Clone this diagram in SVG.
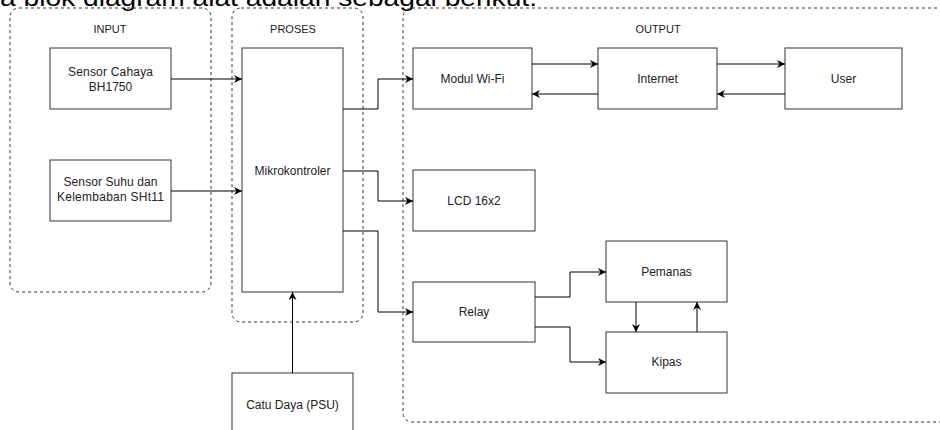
<svg xmlns="http://www.w3.org/2000/svg" width="940" height="430" viewBox="0 0 940 430">
<style>
.box{fill:#fff;stroke:#333;stroke-width:1}
.grp{fill:none;stroke:#333;stroke-width:1;stroke-dasharray:3 3}
.t{font-family:"Liberation Sans",Arial,sans-serif;font-size:12px;fill:#222;text-anchor:middle}
.g{font-size:11px}
.c{fill:none;stroke:#000;stroke-width:1;marker-end:url(#arr)}
.head{font-family:"Liberation Sans",Arial,sans-serif;font-size:24px;fill:#000}
</style>
<defs>
<marker id="arr" viewBox="0 0 10 10" refX="10" refY="5" markerWidth="9" markerHeight="8" orient="auto" markerUnits="userSpaceOnUse">
<path d="M0,0 L10,5 L0,10 L3,5 z" fill="#000"/>
</marker>
</defs>
<rect width="940" height="430" fill="#fff"/>
<text class="head" x="0" y="6" textLength="537" lengthAdjust="spacingAndGlyphs">a blok diagram alat adalah sebagai berikut:</text>

<g id="input-group">
<rect class="grp" x="10" y="8" width="201" height="284" rx="9"/>
<text class="t g" x="110" y="33">INPUT</text>
</g>
<g id="proses-group">
<rect class="grp" x="232" y="8" width="131" height="314" rx="9"/>
<text class="t g" x="293" y="33">PROSES</text>
</g>
<g id="output-group">
<rect class="grp" x="403" y="8" width="560" height="414" rx="9"/>
<text class="t g" x="658" y="33">OUTPUT</text>
</g>

<g id="sensor-cahaya">
<rect class="box" x="50" y="48" width="121" height="61"/>
<text class="t" x="110.5" y="76" textLength="85">Sensor Cahaya</text>
<text class="t" x="110.5" y="91">BH1750</text>
</g>
<g id="sensor-suhu">
<rect class="box" x="50" y="160" width="121" height="61"/>
<text class="t" x="110.5" y="186" textLength="94">Sensor Suhu dan</text>
<text class="t" x="110.5" y="201" textLength="107">Kelembaban SHt11</text>
</g>
<g id="mikrokontroler">
<rect class="box" x="242" y="48" width="101" height="244"/>
<text class="t" x="292.5" y="175">Mikrokontroler</text>
</g>
<g id="catu-daya">
<rect class="box" x="232" y="373" width="121" height="62"/>
<text class="t" x="292.5" y="409">Catu Daya (PSU)</text>
</g>
<g id="modul-wifi">
<rect class="box" x="413" y="48" width="119" height="61"/>
<text class="t" x="472.5" y="83">Modul Wi-Fi</text>
</g>
<g id="internet">
<rect class="box" x="598" y="48" width="119" height="61"/>
<text class="t" x="657.5" y="83">Internet</text>
</g>
<g id="user">
<rect class="box" x="785" y="48" width="117" height="61"/>
<text class="t" x="843.5" y="83">User</text>
</g>
<g id="lcd">
<rect class="box" x="413" y="170" width="122" height="61"/>
<text class="t" x="474" y="205">LCD 16x2</text>
</g>
<g id="relay">
<rect class="box" x="413" y="282" width="122" height="60"/>
<text class="t" x="474" y="316">Relay</text>
</g>
<g id="pemanas">
<rect class="box" x="606" y="241" width="121" height="61"/>
<text class="t" x="666.5" y="276">Pemanas</text>
</g>
<g id="kipas">
<rect class="box" x="606" y="332" width="121" height="61"/>
<text class="t" x="666.5" y="366">Kipas</text>
</g>

<g id="connectors">
<path class="c" d="M171,79 H242"/>
<path class="c" d="M171,191 H242"/>
<path class="c" d="M343,109 H378 V79 H413"/>
<path class="c" d="M343,171 H378 V201 H413"/>
<path class="c" d="M343,231 H378 V312 H413"/>
<path class="c" d="M532,64 H598"/>
<path class="c" d="M598,94 H532"/>
<path class="c" d="M717,64 H785"/>
<path class="c" d="M785,94 H717"/>
<path class="c" d="M535,297 H570 V272 H606"/>
<path class="c" d="M535,327 H570 V362 H606"/>
<path class="c" d="M636,302 V332"/>
<path class="c" d="M697,332 V302"/>
<path class="c" d="M292.5,373 V292"/>
</g>
</svg>
